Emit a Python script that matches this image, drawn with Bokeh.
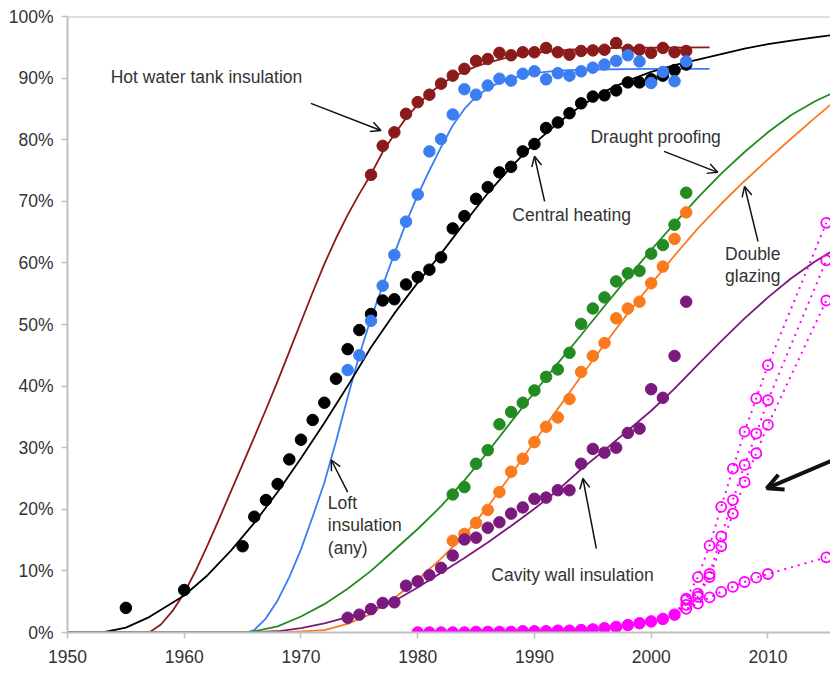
from bokeh.plotting import figure
from bokeh.models import Range1d, FixedTicker, Arrow, OpenHead, Label, Span
from bokeh.embed import file_html
from bokeh.resources import INLINE

# ---------------- data ----------------
# Hot water tank insulation
hw_years = list(range(1976, 2004))
hw_vals = [74.3, 79.0, 81.2, 84.2, 86.1, 87.3, 89.1, 90.4, 91.5, 92.8, 93.1, 94.1, 93.7, 94.2,
           94.2, 94.9, 94.2, 93.8, 94.4, 94.5, 94.6, 95.7, 94.6, 94.6, 94.1, 94.9, 94.2, 94.4]
hw_fit_years = [1950, 1957, 1958, 1959, 1960, 1961, 1962, 1963, 1964, 1965, 1966, 1967, 1968, 1969,
                1970, 1971, 1972, 1973, 1974, 1975, 1976, 1977, 1978, 1979, 1980, 1981, 1982, 1983,
                1984, 1985, 1986, 1987, 1988, 1990, 1993, 1997, 2005]
hw_fit_vals = [0, 0, 1.3, 3.5, 6.4, 10.1, 14.2, 18.5, 22.9, 27.3, 31.7, 36.2, 40.8, 45.6,
               50.4, 55.2, 59.8, 64.0, 67.8, 71.2, 74.4, 78.0, 80.9, 83.5, 85.7, 87.5, 89.0, 90.2,
               91.1, 91.9, 92.5, 93.0, 93.5, 94.1, 94.6, 94.9, 95.0]

# Loft insulation (any)
loft_years = list(range(1974, 2004))
loft_vals = [42.6, 45.0, 50.6, 56.3, 61.3, 66.7, 71.1, 78.1, 80.1, 84.1, 88.2, 87.3, 88.8, 89.9,
             89.6, 90.7, 91.1, 89.8, 90.8, 90.4, 91.1, 91.7, 92.2, 92.8, 93.7, 92.7, 89.2, 91.0,
             89.5, 92.7]
loft_fit_years = [1950, 1965.3, 1966, 1967, 1968, 1969, 1970, 1971, 1972, 1973, 1974, 1975, 1976,
                  1977, 1978, 1979, 1980, 1981, 1982, 1983, 1984, 1985, 1986, 1987, 1988, 1990,
                  1992, 1995, 2000, 2005]
loft_fit_vals = [0, 0, 0.4, 2.3, 5.2, 9.0, 13.5, 18.8, 24.3, 31.0, 38.2, 45.0, 51.0,
                 56.3, 61.5, 66.5, 71.0, 75.0, 78.8, 82.3, 85.0, 87.0, 88.3, 89.3, 90.0, 90.8,
                 91.2, 91.4, 91.5, 91.5]

# Central heating
ch_years = [1955, 1960, 1965] + list(range(1966, 2004))
ch_vals = [4.0, 6.9, 14.0, 18.8, 21.5, 24.1, 28.1, 31.3, 34.5, 37.3, 41.2, 46.0, 49.1, 51.7,
           53.9, 54.1, 56.5, 57.7, 58.9, 60.9, 65.6, 67.6, 70.4, 72.3, 74.7, 75.6, 78.1, 79.3,
           81.9, 82.8, 84.3, 85.9, 87.0, 87.2, 88.0, 89.3, 89.3, 89.8, 90.4, 91.3, 92.2]
ch_fit_years = [1950, 1953, 1955, 1957, 1960, 1962, 1964, 1966, 1968, 1970, 1972, 1974, 1976,
                1978, 1980, 1982, 1984, 1986, 1988, 1990, 1992, 1994, 1996, 1998, 2000, 2002,
                2004, 2006, 2008, 2010, 2012, 2014, 2016]
ch_fit_vals = [0, 0, 0.8, 2.5, 6.0, 9.3, 13.3, 17.8, 22.8, 28.3, 34.0, 40.0, 46.3,
               51.8, 56.8, 61.5, 66.5, 71.3, 75.6, 79.4, 82.7, 85.5, 87.8, 89.6, 91.0, 92.1,
               93.0, 93.9, 94.8, 95.5, 96.1, 96.6, 97.1]

# Draught proofing
dp_years = list(range(1983, 2004))
dp_vals = [22.4, 23.6, 27.4, 29.6, 33.8, 35.8, 37.3, 39.3, 41.5, 42.7, 45.4, 50.1, 52.6, 54.4,
           57.0, 58.3, 58.7, 61.5, 62.9, 66.2, 71.4]
dp_fit_years = [1950, 1965.5, 1968, 1970, 1972, 1974, 1976, 1978, 1980, 1982, 1984, 1986, 1988,
                1990, 1992, 1994, 1996, 1998, 2000, 2002, 2004, 2006, 2008, 2010, 2012, 2014, 2016]
dp_fit_vals = [0, 0, 1.0, 2.6, 4.6, 7.1, 10.0, 13.4, 16.8, 20.5, 24.7, 29.3, 34.2,
               39.0, 43.7, 48.3, 53.0, 57.6, 62.1, 66.4, 70.6, 74.5, 78.0, 81.2, 84.0, 86.2, 88.0]

# Double glazing
dg_years = list(range(1983, 2004))
dg_vals = [14.9, 16.0, 17.8, 19.9, 22.8, 26.1, 28.2, 30.9, 33.4, 34.9, 37.9, 42.3, 44.9, 47.0,
           51.0, 52.6, 53.7, 56.7, 59.4, 63.9, 68.2]
dg_fit_years = [1950, 1968.5, 1972, 1974, 1976, 1978, 1980, 1982, 1984, 1986, 1988, 1990, 1992,
                1994, 1996, 1998, 2000, 2002, 2004, 2006, 2008, 2010, 2012, 2014, 2016]
dg_fit_vals = [0, 0, 0.4, 1.4, 3.0, 5.6, 8.6, 12.0, 15.8, 20.4, 25.6, 31.0, 36.3,
               41.6, 46.8, 51.8, 56.6, 61.2, 65.6, 69.6, 73.3, 76.8, 80.2, 83.5, 86.7]

# Cavity wall insulation
cw_years = list(range(1974, 2004))
cw_vals = [2.4, 2.9, 3.8, 4.8, 4.9, 7.6, 8.3, 9.3, 10.5, 12.5, 15.1, 15.4, 17.0, 17.9, 19.3,
           20.3, 21.7, 21.9, 23.1, 23.1, 27.4, 29.8, 29.2, 30.0, 32.4, 33.1, 39.5, 38.1, 44.9, 53.7]
cw_fit_years = [1950, 1965, 1968, 1970, 1972, 1974, 1976, 1978, 1980, 1982, 1984, 1986, 1988,
                1990, 1992, 1994, 1996, 1998, 2000, 2002, 2004, 2006, 2008, 2010, 2012, 2014, 2016]
cw_fit_vals = [0, 0, 0.2, 0.7, 1.5, 2.5, 3.6, 5.1, 7.3, 9.7, 12.1, 14.6, 17.3,
               20.1, 23.1, 26.5, 29.6, 32.8, 36.0, 39.6, 43.5, 47.3, 51.0, 54.4, 57.5, 60.2, 62.5]

# Magenta: observed (filled) and projections (open, dotted)
mag_years = list(range(1980, 2003))
mag_vals = [0, 0, 0, 0, 0, 0.1, 0.1, 0.1, 0.1, 0.2, 0.2, 0.2, 0.3, 0.3, 0.4, 0.5, 0.7, 0.9,
            1.2, 1.5, 1.8, 2.2, 2.9]
proj_years = [2003, 2004, 2005, 2006, 2007, 2008, 2009, 2010, 2015]
proj_a = [5.5, 9.0, 14.1, 20.4, 26.6, 32.6, 38.0, 43.4, 66.5]
proj_b = [5.3, 6.3, 9.5, 15.6, 21.5, 27.2, 32.3, 37.7, 60.4]
proj_c = [4.5, 5.8, 9.0, 14.0, 19.3, 24.4, 29.1, 33.7, 53.9]
proj_d = [3.85, 4.7, 5.7, 6.6, 7.4, 8.2, 8.9, 9.5, 12.2]

x_ticks = [1950, 1960, 1970, 1980, 1990, 2000, 2010]
x_tick_labels = ["1950", "1960", "1970", "1980", "1990", "2000", "2010"]
y_ticks = [0, 10, 20, 30, 40, 50, 60, 70, 80, 90, 100]
y_tick_labels = ["0%", "10%", "20%", "30%", "40%", "50%", "60%", "70%", "80%", "90%", "100%"]

# ---------------- styling ----------------
C_RED = "#8B1A1A"
C_BLUE = "#3B7EF2"
C_BLACK = "#000000"
C_GREEN = "#228B22"
C_ORANGE = "#FA7A1E"
C_PURPLE = "#7B1A7E"
C_MAG = "#FF00FF"
FONT = "Liberation Sans"
TXT = "#333333"
AX = "#C0C0C0"

p = figure(width=830, height=665, x_range=Range1d(1950, 2015.36), y_range=Range1d(0, 100),
           output_backend="svg", toolbar_location=None,
           min_border_left=67, min_border_right=0, min_border_top=16, min_border_bottom=33)
p.xgrid.visible = False
p.ygrid.visible = False
p.outline_line_color = None
p.background_fill_color = "white"
p.border_fill_color = "white"

for ax, ticks, labels in ((p.xaxis[0], x_ticks, x_tick_labels), (p.yaxis[0], y_ticks, y_tick_labels)):
    ax.ticker = FixedTicker(ticks=ticks)
    ax.major_label_overrides = {t: s for t, s in zip(ticks, labels)}
    ax.axis_line_color = AX
    ax.axis_line_width = 2
    ax.major_tick_line_color = AX
    ax.major_tick_line_width = 1.5
    ax.major_tick_in = 0
    ax.major_tick_out = 6
    ax.minor_tick_line_color = None
    ax.major_label_text_font = FONT
    ax.major_label_text_font_size = "17.5px"
    ax.major_label_text_color = TXT
p.yaxis.major_label_standoff = 8
p.xaxis.major_label_standoff = 11
p.xaxis.major_label_text_line_height = 0.8

p.add_layout(Span(location=100, dimension="width", line_color=AX, line_width=2))

# fitted curves
lw = 1.8
p.line(hw_fit_years, hw_fit_vals, line_color=C_RED, line_width=lw)
p.line(loft_fit_years, loft_fit_vals, line_color=C_BLUE, line_width=lw)
p.line(ch_fit_years, ch_fit_vals, line_color=C_BLACK, line_width=lw)
p.line(cw_fit_years, cw_fit_vals, line_color=C_PURPLE, line_width=lw)
p.line(dg_fit_years, dg_fit_vals, line_color=C_ORANGE, line_width=lw)
p.line(dp_fit_years, dp_fit_vals, line_color=C_GREEN, line_width=lw)

# projections (dotted)
for ser in (proj_a, proj_b, proj_c, proj_d):
    p.line([mag_years[-1]] + proj_years, [mag_vals[-1]] + ser, line_color=C_MAG,
           line_width=2, line_dash="2 5")
    p.scatter(proj_years, ser, size=10, marker="circle", fill_color=None,
              line_color=C_MAG, line_width=1.8)

# observed points
ms = 11.5
p.scatter(ch_years, ch_vals, size=ms, color=C_BLACK)
p.scatter(hw_years, hw_vals, size=ms, color=C_RED)
p.scatter(loft_years, loft_vals, size=ms, color=C_BLUE)
p.scatter(dp_years, dp_vals, size=ms, color=C_GREEN)
p.scatter(dg_years, dg_vals, size=ms, color=C_ORANGE)
p.scatter(cw_years, cw_vals, size=ms, color=C_PURPLE)
p.scatter(mag_years, mag_vals, size=ms, color=C_MAG)

# annotations
def label(x, y, text, align="left"):
    p.add_layout(Label(x=x, y=y, text=text, text_font=FONT, text_font_size="17.5px",
                       text_color=TXT, text_align=align, text_baseline="middle"))

def arrow(x0, y0, x1, y1, w=1.5, size=10):
    p.add_layout(Arrow(x_start=x0, y_start=y0, x_end=x1, y_end=y1, line_color="#111111",
                       line_width=w, end=OpenHead(size=size, line_width=w, line_color="#111111")))

label(1953.7, 90.1, "Hot water tank insulation")
arrow(1970.85, 85.9, 1976.85, 81.5)
label(1988.1, 67.8, "Central heating")
arrow(1990.87, 70.0, 1990.0, 77.3)
label(1994.8, 80.5, "Draught proofing")
arrow(2001.1, 78.1, 2005.7, 74.7)
label(2008.7, 61.5, "Double", align="center")
label(2008.7, 57.8, "glazing", align="center")
arrow(2009.15, 63.5, 2008.0, 72.4)
label(1972.3, 21.0, "Loft")
label(1972.3, 17.4, "insulation")
label(1972.3, 13.7, "(any)")
arrow(1974.0, 22.8, 1972.6, 28.0)
label(1986.3, 9.3, "Cavity wall insulation")
arrow(1995.3, 13.6, 1994.15, 25.0)
arrow(2015.6, 28.0, 2009.9, 23.4, w=4, size=16)

open("out.html", "w").write(file_html(p, INLINE))
